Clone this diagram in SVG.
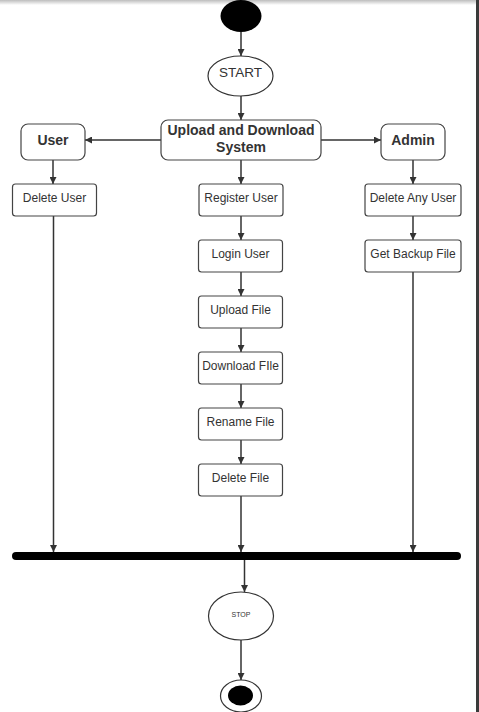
<svg xmlns="http://www.w3.org/2000/svg" width="479" height="712" viewBox="0 0 479 712">
<defs>
<marker id="arr" viewBox="0 0 10 10" refX="10" refY="5" markerWidth="7" markerHeight="7" markerUnits="userSpaceOnUse" orient="auto">
<path d="M0,0 L10,5 L0,10 z" fill="#333"/>
</marker>
<linearGradient id="topg" x1="0" y1="0" x2="0" y2="1">
<stop offset="0" stop-color="#bdbdbd"/>
<stop offset="1" stop-color="#ffffff"/>
</linearGradient>
</defs>
<style>
.box{fill:#fff;stroke:#444;stroke-width:1.2}
.ell{fill:#fff;stroke:#333;stroke-width:1.2}
.t{font-family:"Liberation Sans",Arial,sans-serif;fill:#333;text-anchor:middle}
.s{font-size:12px}
.b{font-size:14px;font-weight:bold}
.c{stroke:#333;stroke-width:1.5;fill:none;marker-end:url(#arr)}
</style>
<rect x="0" y="0" width="479" height="712" fill="#fff"/>
<rect x="0" y="0" width="479" height="5" fill="url(#topg)"/>
<rect x="476" y="0" width="3" height="712" fill="#3a3a3a"/>

<g id="connectors">
<line class="c" x1="241" y1="32" x2="241" y2="56"/>
<line class="c" x1="241" y1="96" x2="241" y2="120"/>
<line class="c" x1="161" y1="140" x2="85" y2="140"/>
<line class="c" x1="321" y1="140" x2="381" y2="140"/>
<line class="c" x1="53" y1="160" x2="53" y2="184"/>
<line class="c" x1="241" y1="160" x2="241" y2="184"/>
<line class="c" x1="413" y1="160" x2="413" y2="184"/>
<line class="c" x1="413" y1="216" x2="413" y2="240"/>
<line class="c" x1="241" y1="216" x2="241" y2="240"/>
<line class="c" x1="241" y1="272" x2="241" y2="296"/>
<line class="c" x1="241" y1="328" x2="241" y2="352"/>
<line class="c" x1="241" y1="384" x2="241" y2="408"/>
<line class="c" x1="241" y1="440" x2="241" y2="464"/>
<line class="c" x1="53.5" y1="216" x2="53.5" y2="552"/>
<line class="c" x1="241" y1="496" x2="241" y2="552"/>
<line class="c" x1="413" y1="272" x2="413" y2="552"/>
<line class="c" x1="244.5" y1="560" x2="244.5" y2="592"/>
<line class="c" x1="241" y1="640" x2="241" y2="680"/>
</g>

<g id="initial"><ellipse cx="241" cy="16" rx="20.5" ry="16" fill="#000"/></g>
<g id="start"><ellipse class="ell" cx="240.5" cy="76" rx="32.5" ry="20"/><text class="t" x="240.5" y="73" font-size="13.5" dominant-baseline="middle">START</text></g>
<g id="system"><rect class="box" x="161" y="120" width="160" height="40" rx="7"/><text class="t b" x="241" y="135">Upload and Download</text><text class="t b" x="241" y="152">System</text></g>
<g id="user"><rect class="box" x="21" y="124" width="64" height="36" rx="7"/><text class="t b" x="53" y="145">User</text></g>
<g id="admin"><rect class="box" x="381" y="124" width="64" height="36" rx="7"/><text class="t b" x="413" y="145">Admin</text></g>
<g id="deleteUser"><rect class="box" x="12.5" y="184" width="84" height="32" rx="3"/><text class="t s" x="54.5" y="202">Delete User</text></g>
<g id="registerUser"><rect class="box" x="199" y="184" width="84" height="32" rx="3"/><text class="t s" x="241" y="202">Register User</text></g>
<g id="deleteAnyUser"><rect class="box" x="365" y="184" width="96" height="32" rx="3"/><text class="t s" x="413" y="202">Delete Any User</text></g>
<g id="getBackupFile"><rect class="box" x="365" y="240" width="96" height="32" rx="3"/><text class="t s" x="413" y="258">Get Backup File</text></g>
<g id="loginUser"><rect class="box" x="198.5" y="240" width="84" height="32" rx="3"/><text class="t s" x="240.5" y="258">Login User</text></g>
<g id="uploadFile"><rect class="box" x="198.5" y="296" width="84" height="32" rx="3"/><text class="t s" x="240.5" y="314">Upload File</text></g>
<g id="downloadFile"><rect class="box" x="198.5" y="352" width="84" height="32" rx="3"/><text class="t s" x="240.5" y="370">Download FIle</text></g>
<g id="renameFile"><rect class="box" x="198.5" y="408" width="84" height="32" rx="3"/><text class="t s" x="240.5" y="426">Rename File</text></g>
<g id="deleteFile"><rect class="box" x="198.5" y="464" width="84" height="32" rx="3"/><text class="t s" x="240.5" y="482">Delete File</text></g>
<g id="joinBar"><rect x="12" y="552" width="449" height="8" rx="4" fill="#000"/></g>
<g id="stop"><ellipse class="ell" cx="241" cy="616" rx="32.5" ry="24"/><text class="t" x="241" y="615.5" font-size="7" dominant-baseline="middle">STOP</text></g>
<g id="final"><ellipse class="ell" cx="241" cy="696" rx="20.5" ry="16"/><ellipse cx="240.5" cy="695.5" rx="12.5" ry="10" fill="#000"/></g>
</svg>
